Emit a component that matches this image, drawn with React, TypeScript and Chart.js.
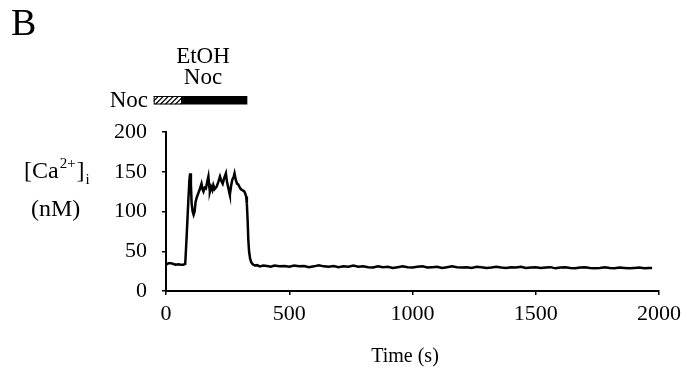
import React, { useEffect, useRef } from "react";
import { Chart, registerables } from "chart.js";

Chart.register(...registerables);

// Time (s) and [Ca2+]i (nM)
const timeS = [
  0, 5, 10, 20, 30, 40, 50, 60, 70, 78,
  84, 90, 95, 98, 101, 104, 108, 112, 116, 120,
  125, 131, 137, 144, 148, 152, 157, 162, 167, 172,
  175, 178, 183, 188, 192, 197, 205, 212, 219, 225,
  230, 236, 243, 247, 252, 256, 259, 264, 269, 274,
  278, 283, 288, 293, 298, 304, 309, 314, 318, 322,
  325, 328, 331, 334, 337, 341, 346, 352, 360, 370,
  380, 395, 410, 425, 440, 460, 480, 500, 520, 540,
  560, 580, 600, 620, 640, 660, 680, 700, 720, 740,
  760, 780, 800, 820, 840, 860, 880, 900, 920, 940,
  960, 980, 1000, 1020, 1040, 1060, 1080, 1100, 1120, 1140,
  1160, 1180, 1200, 1220, 1240, 1260, 1280, 1300, 1320, 1340,
  1360, 1380, 1400, 1420, 1440, 1460, 1480, 1500, 1520, 1540,
  1560, 1580, 1600, 1620, 1640, 1660, 1680, 1700, 1720, 1740,
  1760, 1780, 1800, 1820, 1840, 1860, 1880, 1900, 1920, 1940,
  1960, 1972,
];
const caNM = [
  33, 34, 35, 35, 34, 33, 33.5, 33, 33, 34,
  70, 110, 140, 148, 135, 110, 100, 96, 100, 112,
  118, 123, 128, 135, 128, 125, 130, 129, 137, 144,
  133, 125, 131, 127, 133, 128, 131, 137, 144, 138,
  135, 142, 148, 138, 131, 125, 121, 132, 140, 143,
  148, 140, 135, 134, 131, 128, 127, 126, 125, 122,
  119, 110, 90, 64, 50, 41, 36, 33.6, 32, 32.5,
  31, 32, 31.5, 30.5, 32, 31, 31.5, 30.5, 32, 31,
  31.5, 30, 31, 32.5, 31, 30.5, 31.5, 30, 31, 30.5,
  32, 30.5, 31, 30, 29.5, 31, 30, 30.5, 29, 30,
  31, 30, 29.5, 30.5, 31, 29.5, 30, 30.5, 29, 30,
  31, 30, 29.5, 30, 29, 30.5, 30, 29, 29.5, 30.5,
  29.5, 29, 30, 29.5, 30.5, 29, 29.5, 30, 29, 29.5,
  30, 28.5, 29.5, 30, 29, 28.5, 29.5, 30, 29, 28.5,
  29, 30, 29, 28.5, 29.5, 29, 28.5, 29, 29.5, 28.5,
  29, 29,
];

const xTicks = [0, 500, 1000, 1500, 2000];
const yTicks = [0, 50, 100, 150, 200];

// Treatment bars (s)
const barLabels = ["Noc", "EtOH + Noc"];
const barStart = [-50, 65];
const barEnd = [65, 330];

const SERIF = '"Liberation Serif", "Times New Roman", serif';

const annotations = {
  id: "annotations",
  afterDraw(chart: any) {
    const ctx = chart.ctx;
    const xs = chart.scales.x;
    ctx.save();
    ctx.fillStyle = "#000";
    ctx.strokeStyle = "#000";

    // panel letter
    ctx.font = `38px ${SERIF}`;
    ctx.textAlign = "left";
    ctx.textBaseline = "alphabetic";
    ctx.fillText("B", 11, 35);

    // treatment bars
    const top = 96;
    const h = 8.5;
    for (let i = 0; i < barStart.length; i++) {
      const x1 = xs.getPixelForValue(barStart[i]);
      const x2 = xs.getPixelForValue(barEnd[i]);
      if (i === 0) {
        ctx.fillStyle = "#fff";
        ctx.fillRect(x1, top, x2 - x1, h);
        ctx.lineWidth = 1;
        ctx.strokeRect(x1 + 0.5, top + 0.5, x2 - x1 - 1, h - 1);
        ctx.save();
        ctx.beginPath();
        ctx.rect(x1, top, x2 - x1, h);
        ctx.clip();
        ctx.lineWidth = 1.2;
        for (let x = x1 - h; x < x2 + h; x += 5) {
          ctx.beginPath();
          ctx.moveTo(x, top + h);
          ctx.lineTo(x + h, top);
          ctx.stroke();
        }
        ctx.restore();
        ctx.fillStyle = "#000";
      } else {
        ctx.fillRect(x1, top, x2 - x1, h);
      }
    }

    // bar labels
    ctx.font = `23px ${SERIF}`;
    ctx.textAlign = "right";
    ctx.fillText(barLabels[0], 148, 107);
    ctx.textAlign = "center";
    ctx.fillText("EtOH", 203, 63);
    ctx.fillText("Noc", 203, 84);

    // x-axis title
    ctx.font = `20px ${SERIF}`;
    ctx.fillText("Time (s)", 405, 362);

    // y-axis title
    ctx.textAlign = "left";
    ctx.font = `24px ${SERIF}`;
    let x = 24;
    const base = 178;
    ctx.fillText("[Ca", x, base);
    x += ctx.measureText("[Ca").width + 1;
    ctx.font = `15px ${SERIF}`;
    ctx.fillText("2+", x, base - 10);
    x += ctx.measureText("2+").width + 1;
    ctx.font = `24px ${SERIF}`;
    ctx.fillText("]", x, base);
    x += ctx.measureText("]").width + 1;
    ctx.font = `15px ${SERIF}`;
    ctx.fillText("i", x, base + 6);
    ctx.font = `24px ${SERIF}`;
    ctx.fillText("(nM)", 31, 216);

    ctx.restore();
  },
};

export default function App() {
  const ref = useRef<HTMLCanvasElement | null>(null);
  useEffect(() => {
    if (!ref.current) return;
    const data = timeS.map((t, i) => ({ x: t, y: caNM[i] }));
    const chart = new Chart(ref.current, {
      type: "line",
      data: {
        datasets: [
          {
            label: "[Ca2+]i",
            data,
            borderColor: "#000",
            borderWidth: 2.5,
            pointRadius: 0,
            tension: 0,
            fill: false,
          },
        ],
      },
      options: {
        animation: false,
        responsive: false,
        maintainAspectRatio: false,
        layout: { padding: { top: 132, right: 25, left: 0, bottom: 0 } },
        plugins: { legend: { display: false }, tooltip: { enabled: false } },
        scales: {
          x: {
            type: "linear",
            min: 0,
            max: 2000,
            afterFit: (s: any) => {
              s.height = 80;
            },
            afterBuildTicks: (s: any) => {
              s.ticks = xTicks.map((v) => ({ value: v }));
            },
            grid: { drawOnChartArea: false, drawTicks: true, tickLength: 4, color: "#000", lineWidth: 1.5 },
            border: { display: true, color: "#000", width: 2 },
            ticks: {
              color: "#000",
              font: { family: SERIF, size: 22 },
              padding: 6,
              maxRotation: 0,
              autoSkip: false,
              callback: (v: any) => String(v),
            },
          },
          y: {
            type: "linear",
            min: 0,
            max: 200,
            afterFit: (s: any) => {
              s.width = 166;
            },
            afterBuildTicks: (s: any) => {
              s.ticks = yTicks.map((v) => ({ value: v }));
            },
            grid: { drawOnChartArea: false, drawTicks: true, tickLength: 4, color: "#000", lineWidth: 1.5 },
            border: { display: true, color: "#000", width: 2 },
            ticks: {
              color: "#000",
              font: { family: SERIF, size: 22 },
              padding: 15,
              callback: (v: any) => String(v),
            },
          },
        },
      },
      plugins: [annotations],
    });
    return () => chart.destroy();
  }, []);
  return (
    <div style={{ position: "absolute", left: 0, top: 0, width: 687, height: 371, background: "#fff" }}>
      <canvas ref={ref} width={687} height={371} style={{ width: 687, height: 371 }} />
    </div>
  );
}
